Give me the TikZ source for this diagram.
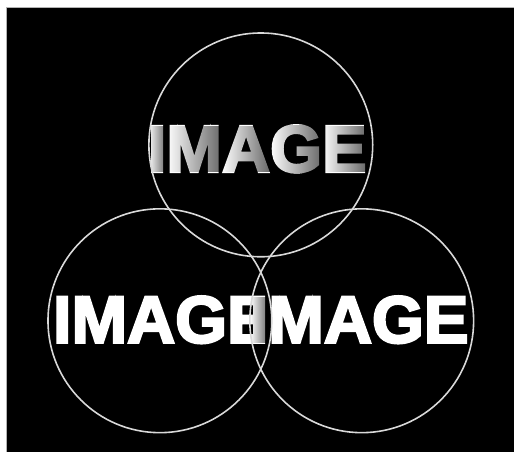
\documentclass[tikz,border=0pt]{standalone}
\usepackage{fontspec}
\newfontfamily\imgfont{Liberation Sans Bold}[FakeBold=3.5]
\usetikzlibrary{positioning,fadings}

\tikzfading[name=glyphfade, left color=transparent!100, right color=transparent!0]
\tikzset{
  glyph/.style={inner sep=0pt, outer sep=0pt, text=white,
    font=\imgfont\fontsize{67}{67}\selectfont},
  ring/.style={draw=white!85!black, line width=1.6},
  shade glyph/.style={black, path fading=glyphfade, fill opacity=0.6}
}

\begin{document}
\begin{tikzpicture}[x=1bp,y=1bp]
    \fill[white] (0,0) rectangle (514,452);
    \fill[black] (6,0) rectangle (514,445);
    \draw[gray!60, line width=0.8] (6,0) -- (6,445) -- (514,445);

    \coordinate (Otop) at (261,307); % centres of the rings
    \coordinate (Oleft) at (160,131);
    \coordinate (Oright) at (362,131);

    % three words, letter by letter
    \foreach \w/\x/\y in {T/148/280, L/53/109, R/250/109} {
        \node[glyph, anchor=base west] (\w1) at (\x,\y) {I};
        \node[glyph, base right=0pt of \w1] (\w2) {M};
        \node[glyph, base right=0pt of \w2] (\w3) {A};
        \node[glyph, base right=0pt of \w3] (\w4) {G};
    }
    \node[glyph, base right=0pt of T4] (T5) {E};
    \node[glyph, base right=0pt of R4] (R5) {E};
    \begin{scope}
        \clip (L4.south east) rectangle ([xshift=3bp, yshift=5bp]R1.north west);
        \node[glyph, base right=0pt of L4] (L5) {E};
    \end{scope}

    \foreach \k in {1,...,5}
        \fill[shade glyph] (T\k.south west) rectangle (T\k.north east);
    \fill[shade glyph] (R1.south west) rectangle (R1.north east);

    \draw[ring] (Otop) circle[radius=112];
    \draw[ring] (Oleft) circle[radius=112];
    \draw[ring] (Oright) circle[radius=112];
\end{tikzpicture}
\end{document}
